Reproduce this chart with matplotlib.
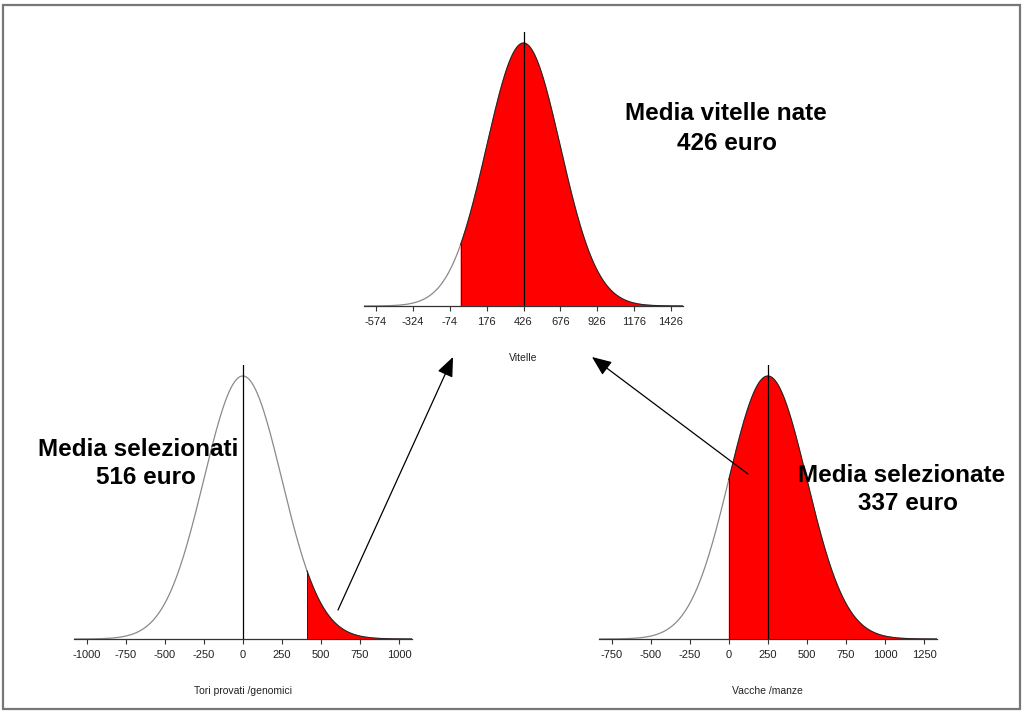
import matplotlib
matplotlib.use("Agg")
import matplotlib.pyplot as plt
import numpy as np
from matplotlib.patches import Rectangle

plt.rcParams['font.family'] = ['Liberation Sans', 'DejaVu Sans']

# distributions (euro): mean, sd, start of the selected (red) part
panel_names = ["Vitelle", "Tori provati /genomici", "Vacche /manze"]
panel_means = [426, 0, 250]
panel_sds = [250, 250, 250]
panel_cuts = [0, 411, 0]
panel_ticks = [
    [-574, -324, -74, 176, 426, 676, 926, 1176, 1426],
    [-1000, -750, -500, -250, 0, 250, 500, 750, 1000],
    [-750, -500, -250, 0, 250, 500, 750, 1000, 1250],
]
# annotation texts
titles = [
    ("Media vitelle nate", "426 euro"),
    ("Media selezionati", "516 euro"),
    ("Media selezionate", "337 euro"),
]

W, H = 1024, 713
fig = plt.figure(figsize=(W / 100, H / 100), dpi=100)

# panel placement in pixels: left, right of spine, baseline y
boxes = [(364.2, 682.8, 306), (74.2, 411.5, 639), (599.2, 936.5, 639)]
peak_h = 263  # pixel height of the curve peak

for i in range(3):
    x0, x1, base = boxes[i]
    top_h = peak_h * 1.04
    ax = fig.add_axes([x0 / W, (H - base) / H, (x1 - x0) / W, top_h / H])
    m, s, c = panel_means[i], panel_sds[i], panel_cuts[i]
    t = panel_ticks[i]
    ext = 0.04 * (t[-1] - t[0])
    ax.set_xlim(t[0] - ext, t[-1] + ext)
    x = np.linspace(t[0] - ext, t[-1] + ext, 600)
    y = np.exp(-0.5 * ((x - m) / s) ** 2) / (s * np.sqrt(2 * np.pi))
    ymax = y.max()
    ax.set_ylim(0, ymax * 1.04)

    ax.plot(x, y, color='#8a8a8a', lw=0.9, zorder=2)
    xs = np.linspace(c, t[-1] + ext, 400)
    ys = np.exp(-0.5 * ((xs - m) / s) ** 2) / (s * np.sqrt(2 * np.pi))
    ax.fill_between(xs, 0, ys, facecolor='#ff0000', edgecolor='none', zorder=3)
    ax.plot(xs, ys, color='#222222', lw=0.7, zorder=4)
    ax.plot([c, c], [0, np.interp(c, xs, ys)], color='#222222', lw=0.7, zorder=4)
    ax.axvline(m, color='black', lw=0.9, zorder=5)

    for sp in ['top', 'left', 'right']:
        ax.spines[sp].set_visible(False)
    ax.spines['bottom'].set_color('#333333')
    ax.spines['bottom'].set_linewidth(0.9)
    ax.set_yticks([])
    ax.set_xticks(t)
    ax.set_xticklabels([str(v) for v in t])
    ax.tick_params(axis='x', length=3.8, width=0.8, color='#333333',
                   labelsize=8, labelcolor='#222222', pad=4.0)
    ax.set_xlabel(panel_names[i], fontsize=7.5, color='#222222')
    ax.xaxis.set_label_coords(0.5, -52 / top_h)
    ax.xaxis.label.set_va('center')
    ax.patch.set_alpha(0)

# overlay in pixel coordinates for texts, arrows and frame
ov = fig.add_axes([0, 0, 1, 1])
ov.set_xlim(0, W)
ov.set_ylim(H, 0)
ov.axis('off')
ov.patch.set_alpha(0)

ov.add_patch(Rectangle((3, 5), 1017, 704, fill=False, edgecolor='#777777', lw=1.6))

text_pos = [((726, 113), (727, 143)), ((138, 449), (146, 478)), ((902, 475), (908, 503))]
for (l1, l2), (p1, p2) in zip(titles, text_pos):
    ov.text(p1[0], p1[1], l1, ha='center', va='center', fontsize=17.5, fontweight='bold')
    ov.text(p2[0], p2[1], l2, ha='center', va='center', fontsize=17.5, fontweight='bold')

arrows = [((338, 610), (453, 357)), ((748, 474), (592, 357))]
for tail, tip in arrows:
    ov.annotate('', xy=tip, xytext=tail,
                arrowprops=dict(arrowstyle='-|>,head_length=0.6,head_width=0.25',
                                mutation_scale=20, color='black', lw=0.9,
                                shrinkA=0, shrinkB=0))

fig.savefig('out.png', dpi=100)
